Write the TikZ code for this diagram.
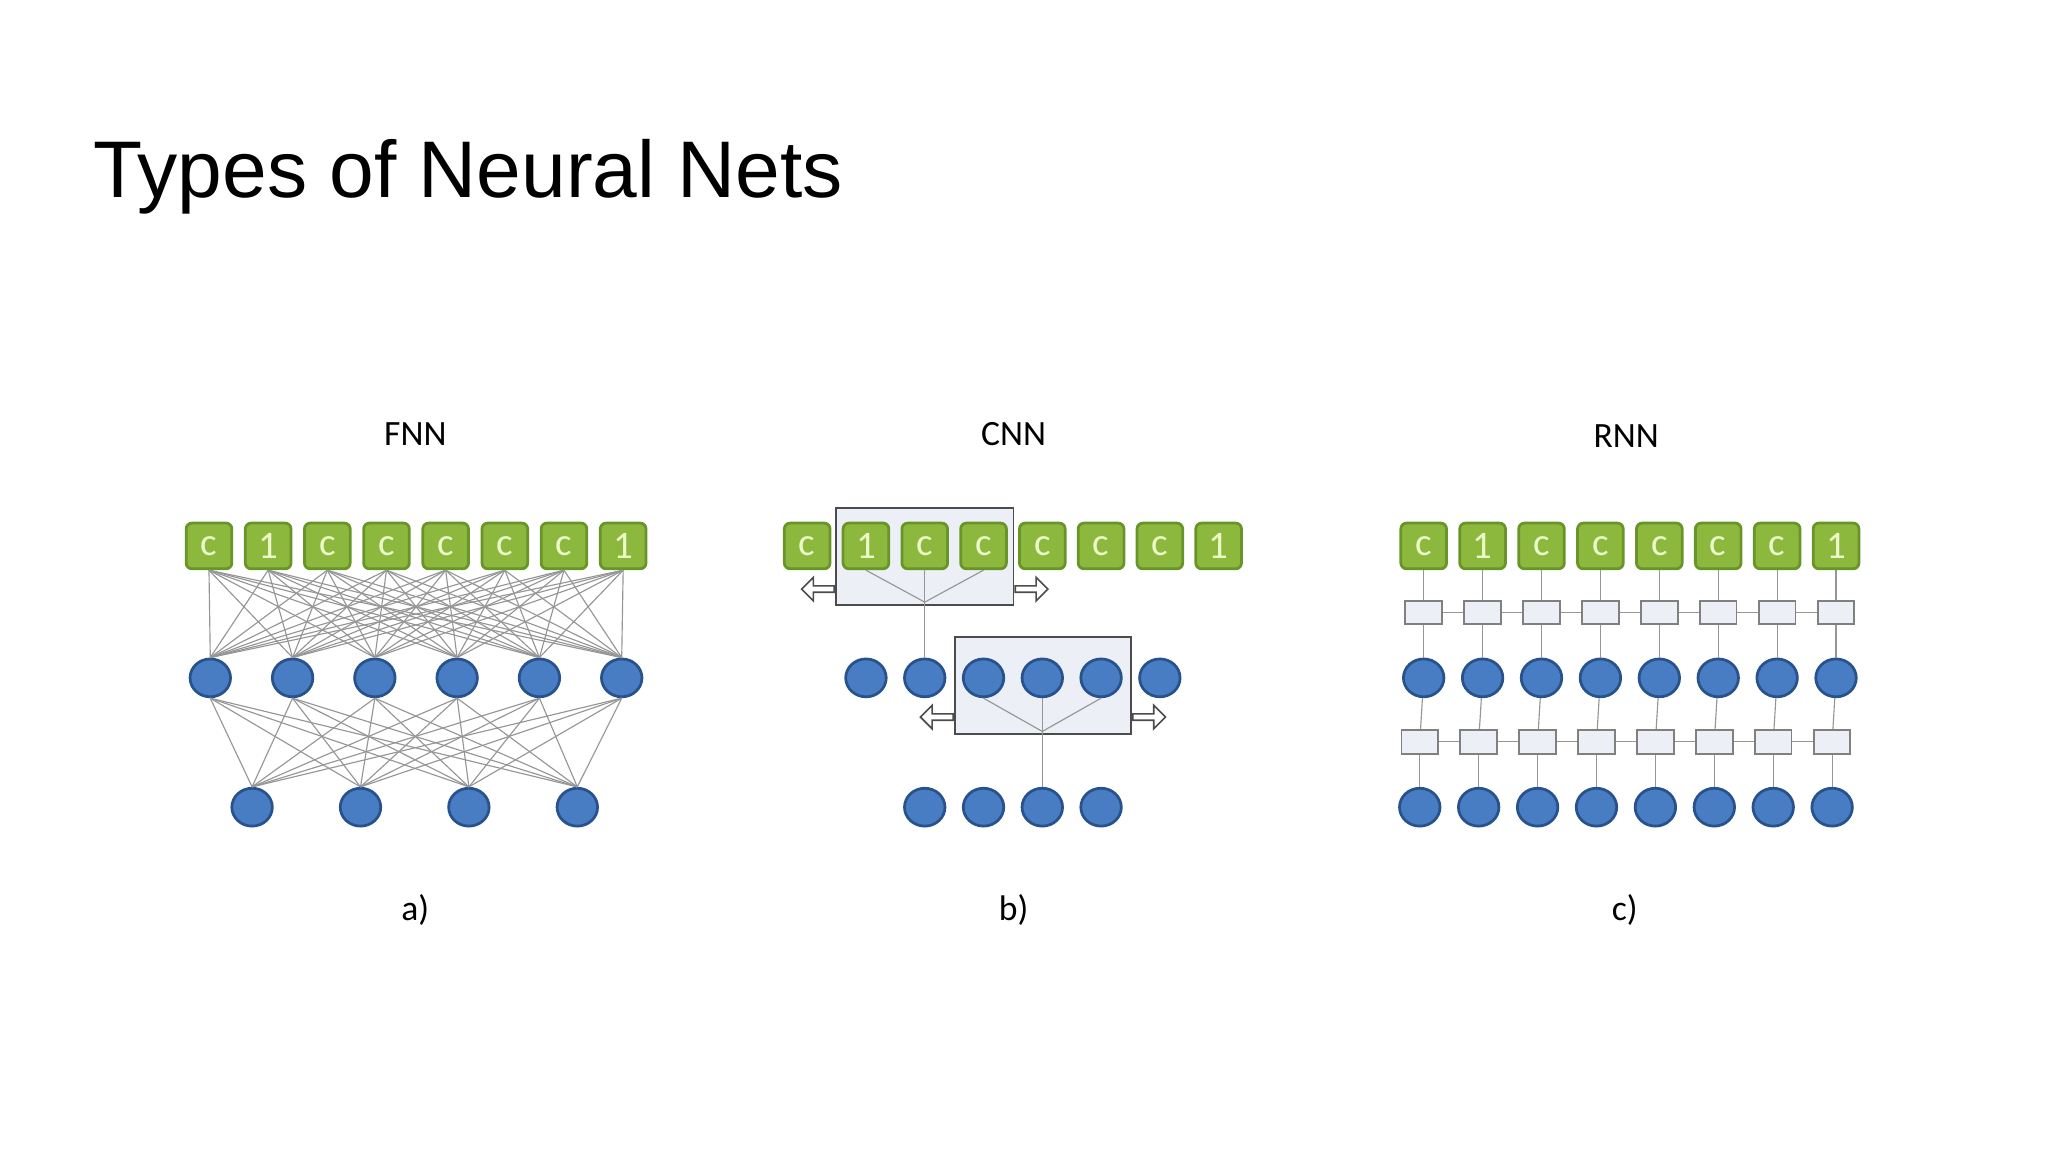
\documentclass[tikz,border=0pt]{standalone}
\usepackage{fontspec}
\setmainfont{Liberation Sans}
\newfontfamily\calib{Carlito}
\usetikzlibrary{shapes.geometric,shapes.arrows,backgrounds}
\definecolor{gfill}{RGB}{140,184,62}
\definecolor{gdraw}{RGB}{104,148,40}
\definecolor{gtext}{RGB}{235,250,200}
\definecolor{bfill}{RGB}{72,125,195}
\definecolor{bdraw}{RGB}{40,82,140}
\definecolor{rfill}{RGB}{236,239,246}
\definecolor{wire}{RGB}{150,150,150}
\begin{document}
\begin{tikzpicture}[x=0.02cm,y=-0.02cm,
  inp/.style={rectangle,rounded corners=2.5pt,draw=gdraw,line width=1.2pt,fill=gfill,
    minimum width=0.7cm,minimum height=0.7cm,inner sep=0pt,text=gtext,
    font=\calib\fontsize{17}{17}\selectfont},
  neu/.style={ellipse,draw=bdraw,line width=1.2pt,fill=bfill,minimum width=0.62cm,minimum height=0.58cm,inner sep=0pt},
  cell/.style={rectangle,draw=gray,line width=0.8pt,fill=rfill,minimum width=0.56cm,minimum height=0.36cm,inner sep=0pt},
  win/.style={rectangle,draw=black!70,line width=0.8pt,fill=rfill,inner sep=0pt},
  ha/.style={single arrow,draw=black!70,fill=white,line width=0.7pt,minimum height=0.5cm,minimum width=0.36cm,
    single arrow head extend=0.07cm,inner sep=0.4pt},
  lab/.style={font=\calib\fontsize{15.5}{15.5}\selectfont},
  w/.style={draw=wire,line width=0.5pt}]
\useasboundingbox (0,0) rectangle (1568,882);
\node[anchor=base west,font=\fontsize{35}{35}\selectfont] (title) at (65,151) {Types of Neural Nets};

% ---------- FNN ----------
\node[lab] (fnnl) at (318,332) {FNN};
\node[lab] (al) at (318,697) {a)};
\foreach \t [count=\i] in {c,1,c,c,c,c,c,1}
  \node[inp] (fi\i) at ({160+45.3*(\i-1)},418) {\t};
\foreach \x [count=\i] in {161,224,287,350,413,476}
  \node[neu] (fh\i) at (\x,519) {};
\foreach \x [count=\i] in {193,276,359,442}
  \node[neu] (fo\i) at (\x,618) {};
\foreach \i in {1,...,8}
  \foreach \j in {1,...,6}
    \draw[w] (fi\i.south) -- (fh\j.north);
\foreach \j in {1,...,6}
  \foreach \k in {1,...,4}
    \draw[w] (fh\j.south) -- (fo\k.north);

% ---------- CNN ----------
\node[lab] (cnnl) at (776,332) {CNN};
\node[lab] (bl) at (776,697) {b)};
\foreach \t [count=\i] in {c,1,c,c,c,c,c,1}
  \node[inp] (ci\i) at ({618+45*(\i-1)},418) {\t};
\foreach \x [count=\i] in {663,708,753,798,843,888}
  \node[neu] (ch\i) at (\x,519) {};
\foreach \x [count=\i] in {708,753,798,843}
  \node[neu] (co\i) at (\x,618) {};
\begin{scope}[on background layer]
\node[win,minimum width=2.72cm,minimum height=1.48cm] (w1) at (708,426) {};
\node[win,minimum width=2.7cm,minimum height=1.48cm] (w2) at (798.5,525) {};
\end{scope}
\node[ha,shape border rotate=180,anchor=tail] (w1l) at (w1.west |- 0,451) {};
\node[ha,anchor=tail] (w1r) at (w1.east |- 0,451) {};
\node[ha,shape border rotate=180,anchor=tail] (w2l) at (w2.west |- 0,549) {};
\node[ha,anchor=tail] (w2r) at (w2.east |- 0,549) {};
\coordinate (k1) at (708,461);
\coordinate (k2) at (798,560);
\foreach \i in {2,3,4} \draw[w] (ci\i.south) -- (k1);
\draw[w] (k1) -- (ch2.north);
\foreach \i in {3,4,5} \draw[w] (ch\i.south) -- (k2);
\draw[w] (k2) -- (co3.north);

% ---------- RNN ----------
\node[lab] (rnnl) at (1245,334) {RNN};
\node[lab] (cl) at (1244,697) {c)};
\foreach \t [count=\i] in {c,1,c,c,c,c,c,1}
  \node[inp] (ri\i) at ({1090+45.1*(\i-1)},418) {\t};
\foreach \i in {1,...,8} {
  \node[cell] (ra\i) at ({1090+45.1*(\i-1)},469) {};
  \node[neu] (rh\i) at ({1090+45.1*(\i-1)},519) {};
  \node[cell] (rb\i) at ({1087+45.1*(\i-1)},568) {};
  \node[neu] (ro\i) at ({1087+45.1*(\i-1)},618) {};
  \draw[w] (ri\i) -- (ra\i);
  \draw[w] (ra\i) -- (rh\i);
  \draw[w] (rh\i) -- (rb\i);
  \draw[w] (rb\i) -- (ro\i);
}
\foreach \i [evaluate=\i as \n using int(\i+1)] in {1,...,7} {
  \draw[w] (ra\i) -- (ra\n);
  \draw[w] (rb\i) -- (rb\n);
}
\end{tikzpicture}
\end{document}
